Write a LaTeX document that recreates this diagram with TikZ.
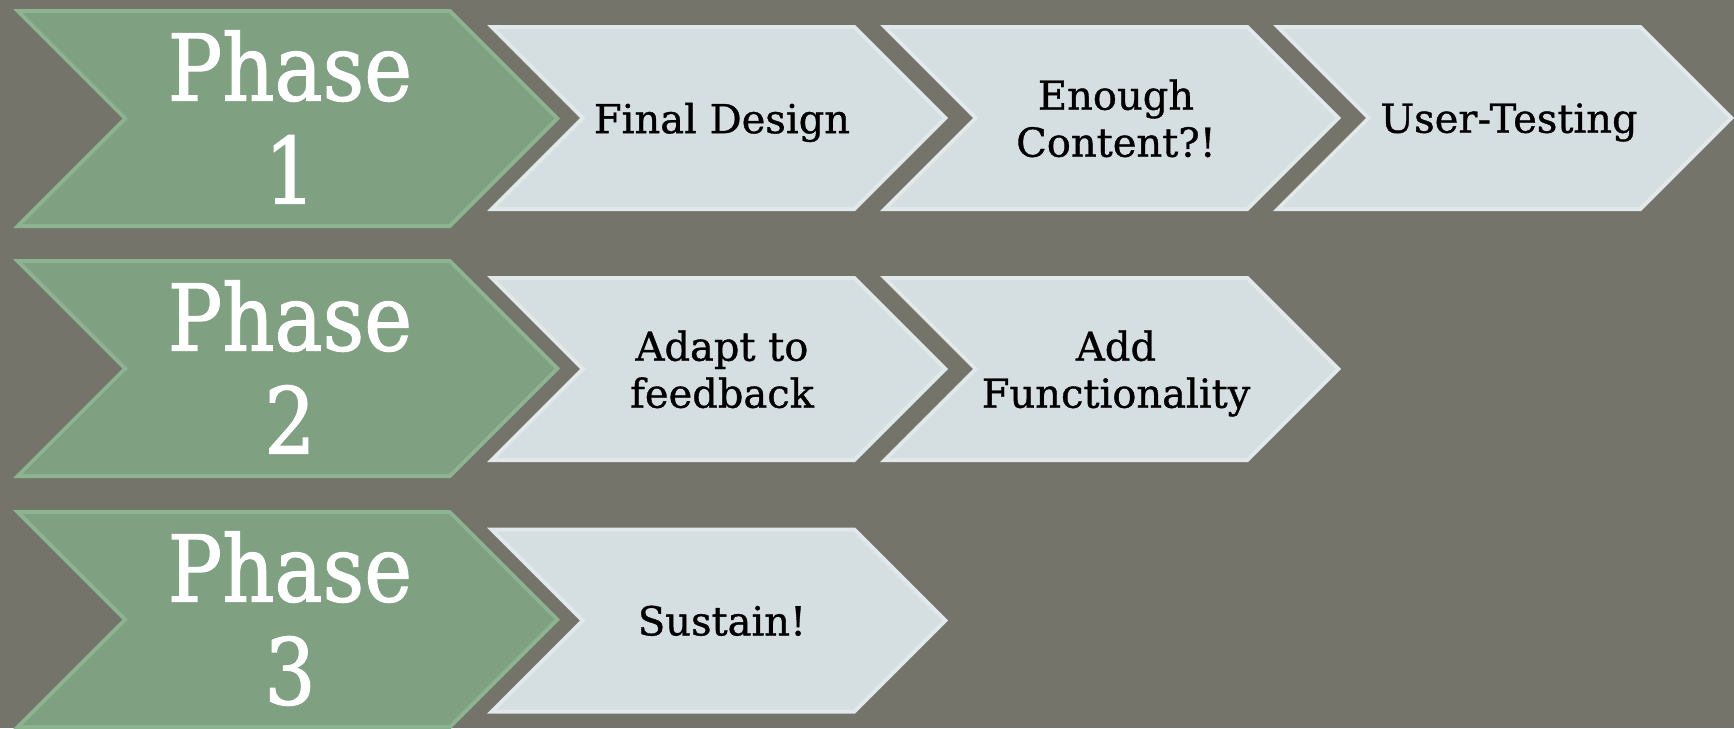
\documentclass[tikz,border=0pt]{standalone}
\usepackage{fontspec}
\setmainfont{DejaVu Serif}
\newfontfamily\phasefont{DejaVu Serif}[FakeStretch=0.88,UprightFeatures={FakeBold=1.2}]
\newfontfamily\stepfont{DejaVu Serif}[UprightFeatures={FakeBold=0.9}]
\usepackage{tikz}

\definecolor{slidebg}{RGB}{116,116,106}
\definecolor{phasegreen}{RGB}{128,160,130}
\definecolor{phaserim}{RGB}{140,180,144}
\definecolor{stepgray}{RGB}{213,222,225}
\definecolor{steprim}{RGB}{226,233,235}

% chevron pic: length, half height, style prefix; outer rim plus inset face
\tikzset{
  pics/chevron/.style n args={3}{code={
    \path[#3 rim] (0,-#2) -- (#1-#2,-#2) -- (#1,0) -- (#1-#2,#2) -- (0,#2) -- (#2,0) -- cycle;
    \path[#3 face] (9.7,-#2+4) -- (#1-#2-1.7,-#2+4) -- (#1-5.7,0)
      -- (#1-#2-1.7,#2-4) -- (9.7,#2-4) -- (#2+5.7,0) -- cycle;
  }}
}

\begin{document}
\begin{tikzpicture}[x=0.5pt,y=-0.5pt,
    phase rim/.style={fill=phaserim},
    phase face/.style={fill=phasegreen},
    step rim/.style={fill=steprim},
    step face/.style={fill=stepgray},
    phasetext/.style={text=white,font=\phasefont\fontsize{46}{51.5}\selectfont,
      align=center,text depth=0pt,inner sep=0pt},
    steptext/.style={text=black,font=\stepfont\fontsize{20}{23.5}\selectfont,
      align=center,text depth=0pt,inner sep=0pt}]

      % slide background
      \fill[slidebg] (0,0) rectangle (1734,728);
      \useasboundingbox (0,0) rectangle (1734,728);

      % Row 1: Phase 1 and its three steps
      \pic at (13,118.5) {chevron={547}{109.5}{phase}};
      \pic at (487,118) {chevron={461}{93}{step}};
      \pic at (880,118) {chevron={461}{93}{step}};
      \pic at (1273,118) {chevron={461}{93}{step}};

      \node[phasetext] (phase1) at (290,117) {Phase\\1};
      \node[steptext] (design) at (722,118) {Final Design};
      \node[steptext] (content) at (1116,118) {Enough\\Content?!};
      \node[steptext] (testing) at (1509,118) {User-Testing};

      % Row 2: Phase 2 and its two steps
      \pic at (13,368.5) {chevron={547}{109.5}{phase}};
      \pic at (487,369) {chevron={461}{93}{step}};
      \pic at (880,369) {chevron={461}{93}{step}};

      \node[phasetext] (phase2) at (290,367) {Phase\\2};
      \node[steptext] (adapt) at (722,369) {Adapt to\\feedback};
      \node[steptext] (functions) at (1116,369) {Add\\Functionality};

      % Row 3: Phase 3 and its one step
      \pic at (13,619.5) {chevron={547}{109.5}{phase}};
      \pic at (487,620.5) {chevron={461}{93}{step}};

      \node[phasetext] (phase3) at (290,618) {Phase\\3};
      \node[steptext] (sustain) at (722,620.5) {Sustain!};

    \end{tikzpicture}
\end{document}
